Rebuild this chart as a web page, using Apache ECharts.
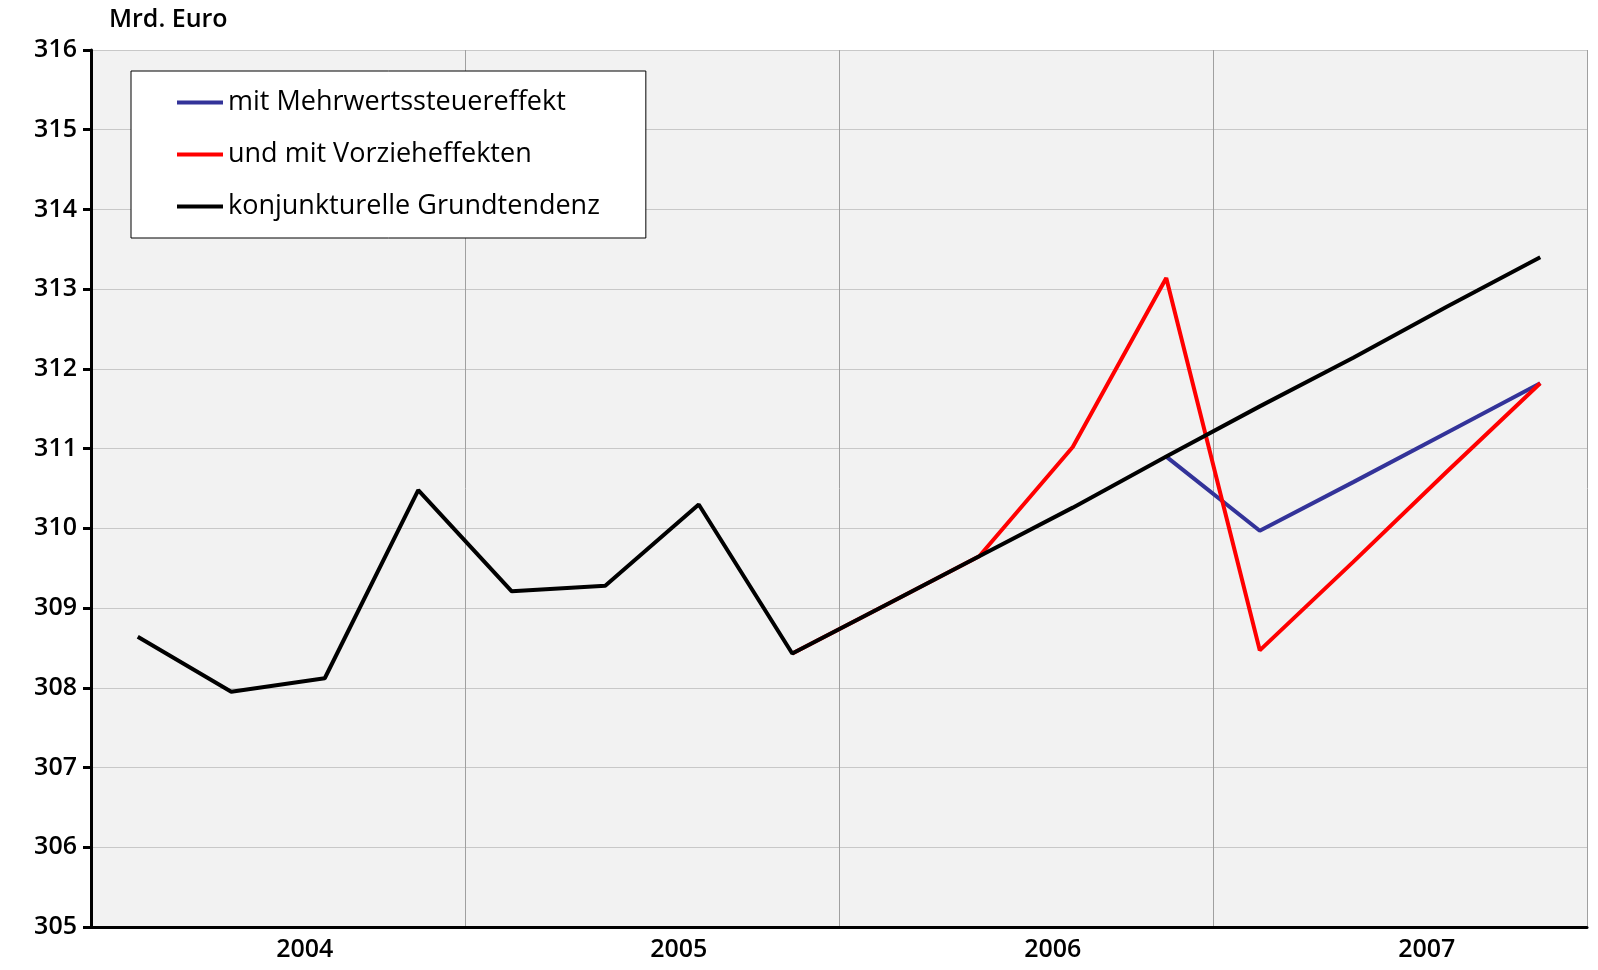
<!DOCTYPE html>
<html><head><meta charset="utf-8">
<script src="https://cdn.jsdelivr.net/npm/echarts@6/dist/echarts.min.js"></script>
<style>html,body{margin:0;padding:0;background:#fff}#c{width:1598px;height:970px}</style>
</head><body><div id="c"></div>
<script>
const quarters = ['2004Q1','2004Q2','2004Q3','2004Q4','2005Q1','2005Q2','2005Q3','2005Q4','2006Q1','2006Q2','2006Q3','2006Q4','2007Q1','2007Q2','2007Q3','2007Q4'];
const yearLabels = {2:'2004',6:'2005',10:'2006',14:'2007'};
const mitMwSt = [null,null,null,null,null,null,null,null,null,null,null,310.90,309.97,310.58,311.20,311.82];
const mitVorzieh = [null,null,null,null,null,null,null,308.43,309.04,309.65,311.02,313.14,308.47,309.58,310.71,311.82];
const grundtendenz = [308.64,307.95,308.12,310.48,309.21,309.28,310.30,308.43,309.04,309.65,310.26,310.90,311.53,312.14,312.78,313.40];
const font = 'Open Sans';
const every4 = (i)=> i%4===0;
const chart = echarts.init(document.getElementById('c'));
chart.setOption({
  animation:false,
  textStyle:{fontFamily:font},
  grid:{left:91,right:11,top:50,bottom:43,show:true,backgroundColor:'#f2f2f2',borderWidth:0},
  title:{text:'Mrd. Euro',left:104,top:2,textStyle:{fontFamily:font,fontSize:25,fontWeight:600,color:'#000'}},
  legend:{left:131,top:71,orient:'vertical',backgroundColor:'#fff',borderColor:'#000',borderWidth:1,
    padding:[18,46,18,46],itemGap:25,itemWidth:46,itemHeight:4,
    textStyle:{fontSize:27,color:'#000',fontFamily:font},
    data:[{name:'mit Mehrwertssteuereffekt',icon:'rect'},{name:'und mit Vorzieheffekten',icon:'rect'},{name:'konjunkturelle Grundtendenz',icon:'rect'}]},
  xAxis:{type:'category',data:quarters,boundaryGap:true,
    axisLine:{lineStyle:{color:'#000',width:3}},
    axisTick:{interval:every4,length:9,lineStyle:{color:'#000',width:3}},
    axisLabel:{interval:0,formatter:(v,i)=>yearLabels[i]||'',fontSize:25,color:'#000',fontWeight:600,padding:[0,40,0,0],margin:10},
    splitLine:{show:true,interval:every4,lineStyle:{color:'#a0a0a0',width:1}}},
  yAxis:{type:'value',min:305,max:316,interval:1,
    axisLine:{show:true,lineStyle:{color:'#000',width:3}},
    axisTick:{show:true,length:8,lineStyle:{color:'#000',width:3}},
    axisLabel:{fontSize:25,color:'#000',fontWeight:600,margin:14},
    splitLine:{lineStyle:{color:'#c8c8c8',width:1}}},
  series:[
    {name:'mit Mehrwertssteuereffekt',type:'line',data:mitMwSt,symbol:'none',color:'#333399',lineStyle:{width:4,color:'#333399'}},
    {name:'und mit Vorzieheffekten',type:'line',data:mitVorzieh,symbol:'none',color:'#ff0000',lineStyle:{width:4,color:'#ff0000'}},
    {name:'konjunkturelle Grundtendenz',type:'line',data:grundtendenz,symbol:'none',color:'#000',lineStyle:{width:4,color:'#000'}}
  ]
});
</script></body></html>
